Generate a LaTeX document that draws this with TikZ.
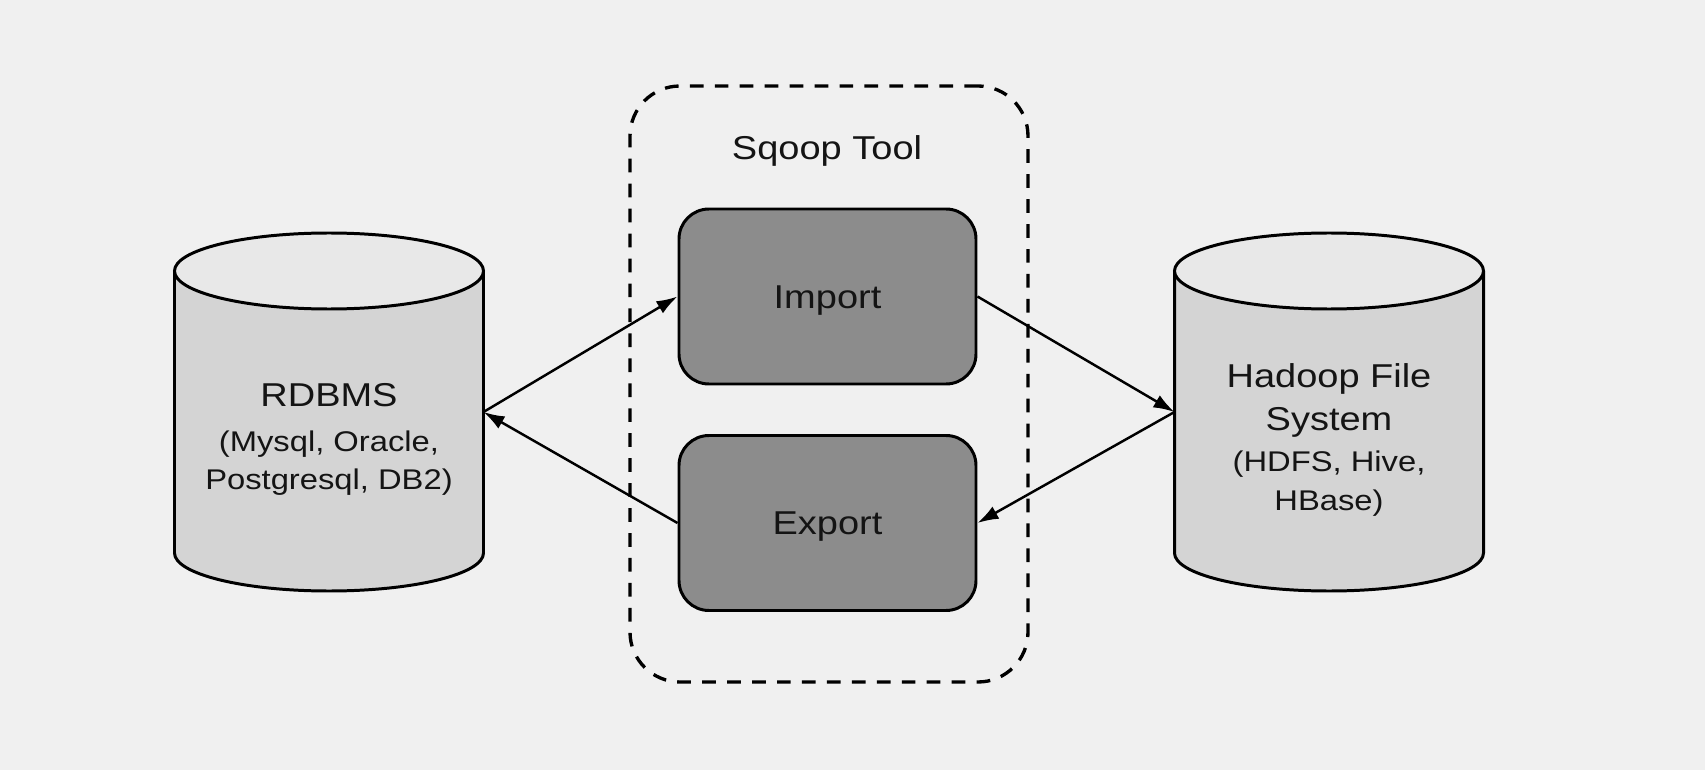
\documentclass[tikz,border=0pt]{standalone}
\usepackage{fontspec}
\setmainfont{Liberation Sans}[FakeStretch=1.15]
\usetikzlibrary{arrows.meta}

\definecolor{fundo}{HTML}{F0F0F0}
\definecolor{corpobd}{HTML}{D4D4D4}
\definecolor{topobd}{HTML}{E8E8E8}
\definecolor{caixaop}{HTML}{8C8C8C}
\definecolor{texto}{HTML}{141414}

\newcommand{\titulobd}[1]{{\fontsize{9.4}{12}\selectfont #1}}

\tikzset{
    corpobd/.style={minimum width=3.09cm, minimum height=2.82cm, inner sep=0pt, outer sep=0pt},
    contorno/.style={line width=0.85pt},
    rotulobd/.style={align=center, text=texto, font=\fontsize{8.1}{10.8}\selectfont},
    operacao/.style={draw, line width=0.85pt, fill=caixaop, rounded corners=0.3cm,
        minimum width=2.97cm, minimum height=1.75cm, text=texto,
        font=\fontsize{9.4}{12}\selectfont, text height=0.236cm, text depth=0pt},
    ferramenta/.style={draw, dashed, dash pattern=on 3.9pt off 3.2pt, line width=0.95pt,
        rounded corners=0.5cm, minimum width=3.98cm, minimum height=5.96cm},
    seta/.style={-{Latex[length=2.1mm,width=1.4mm]}, draw, line width=0.7pt},
}

\begin{document}
\begin{tikzpicture}

    \useasboundingbox[fill=fundo] (0,0) rectangle (17.05,7.70);

    % Caixa da ferramenta
    \node[ferramenta] (sqoop) at (8.29,3.86) {};
    \node[anchor=base, text=texto, font=\fontsize{9.4}{12}\selectfont] (sqooptitulo) at (8.27,6.10) {Sqoop Tool};

    % Operacoes
    \node[operacao] (import) at (8.275,4.735) {Import};
    \node[operacao] (export) at (8.275,2.47) {Export};

    % Bancos de dados (cilindros)
    \node[corpobd] (rdbms) at (3.29,3.58) {};
    \node[corpobd] (hdfs) at (13.29,3.58) {};
    \foreach \bd in {rdbms,hdfs} {
        \filldraw[contorno, fill=corpobd] (\bd.north west) -- (\bd.south west)
            arc[start angle=180, end angle=360, x radius=1.545cm, y radius=0.38cm] -- (\bd.north east);
        \filldraw[contorno, fill=topobd] (\bd.north) ellipse [x radius=1.545cm, y radius=0.38cm];
    }
    \node[rotulobd] (rdbmsrotulo) at (3.29,3.305) {\titulobd{RDBMS}\\[0.064cm] (Mysql, Oracle,\\ Postgresql, DB2)};
    \node[rotulobd] (hdfsrotulo) at (13.29,3.30) {\titulobd{Hadoop File}\\[0.053cm] \titulobd{System}\\[0.037cm] (HDFS, Hive,\\[0.01cm] HBase)};

    % Setas
    \path[seta] (rdbms.east) -- (import.west);
    \path[seta] (export.west) -- (rdbms.east);
    \path[seta] (import.east) -- (hdfs.west);
    \path[seta] (hdfs.west) -- (export.east);

\end{tikzpicture}
\end{document}
